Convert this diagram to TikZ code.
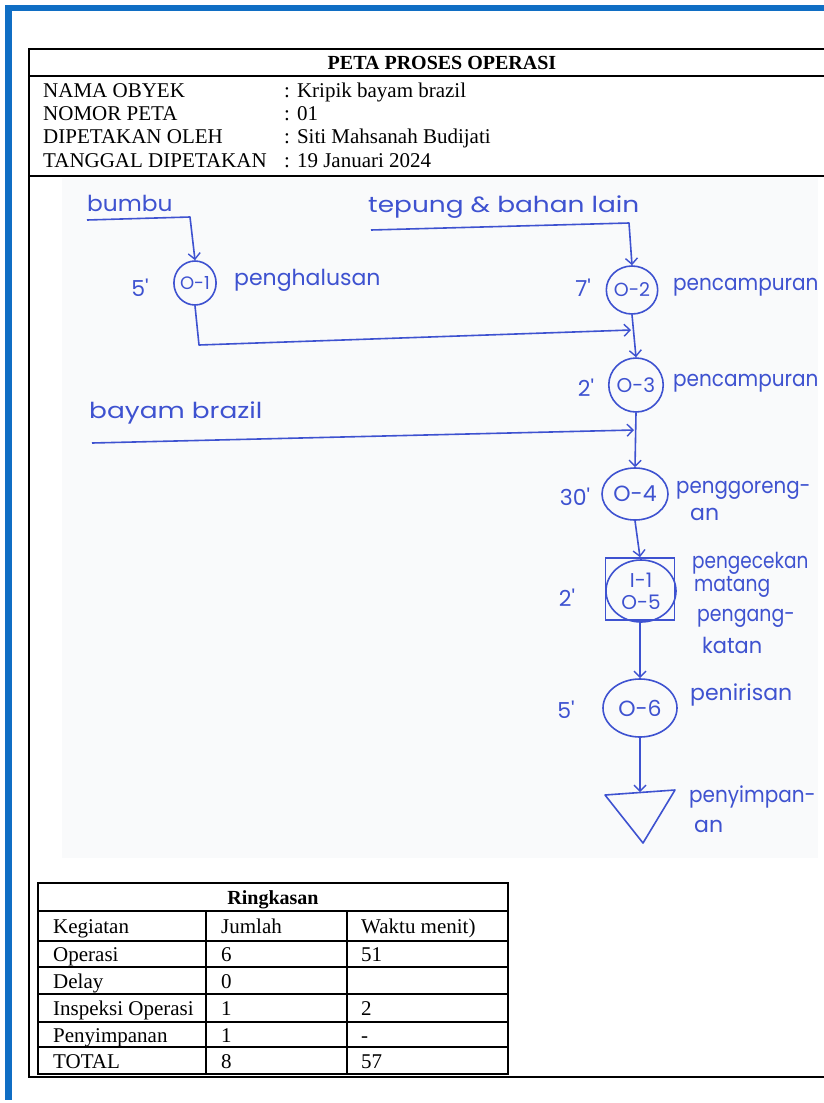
\documentclass[tikz,border=0pt]{standalone}
\usepackage{fontspec}
\usepackage{graphicx}
\setmainfont{Liberation Serif}
\newfontfamily\hand{Poppins}
\usetikzlibrary{arrows.meta,shapes.geometric}
\definecolor{pen}{RGB}{62,82,208}
\definecolor{frameblue}{RGB}{16,110,196}
\definecolor{photobg}{RGB}{249,250,251}
\newcommand{\hws}[2]{\scalebox{#1}[1]{#2}}
\begin{document}
\begin{tikzpicture}[x=1pt,y=-1pt,
  hw/.style={text=pen, font=\hand\fontsize{22}{22}\selectfont, inner sep=0pt},
  op/.style={ellipse, draw=pen, line width=1.6pt, inner sep=0pt, text=pen, font=\hand\fontsize{19}{19}\selectfont},
  flow/.style={draw=pen, line width=1.6pt, line join=round, -{Straight Barb[length=6pt,width=12pt,line width=1.4pt]}},
  pen/.style={draw=pen, line width=1.6pt, line join=round},
  frm/.style={line width=1.8pt, draw=black},
  txt/.style={font=\fontsize{21}{21}\selectfont, inner sep=0pt},
  lbl/.style={txt, anchor=base west}
]
\useasboundingbox (0,0) rectangle (824,1103);
\fill[white] (0,0) rectangle (824,1103);
% blue frame
\fill[frameblue] (5,5) rectangle (824,11);
\fill[frameblue] (5,5) rectangle (12,1100);
% outer form box
\fill[photobg] (62,178) rectangle (818,858);
\draw[frm] (29,49) rectangle (860,1077);
\draw[frm] (29,76) -- (860,76);
\draw[frm] (29,176) -- (860,176);

% header
\node[txt, anchor=base, font=\bfseries\fontsize{20}{20}\selectfont] (title) at (442,69) {PETA PROSES OPERASI};
\node[lbl] (l1) at (43,97) {NAMA OBYEK};
\node[lbl] (l2) at (43,120) {NOMOR PETA};
\node[lbl] (l3) at (43,143) {DIPETAKAN OLEH};
\node[lbl] (l4) at (43,167) {TANGGAL DIPETAKAN};
\node[lbl] (v1) at (284,97) {: Kripik bayam brazil};
\node[lbl] (v2) at (284,120) {: 01};
\node[lbl] (v3) at (284,143) {: Siti Mahsanah Budijati};
\node[lbl] (v4) at (284,167) {: 19 Januari 2024};

% process symbols
\node[op, minimum width=36pt, minimum height=44pt, font=\hand\fontsize{18}{18}\selectfont] (o1) at (195,283) {O-1};
\node[op, minimum width=42pt, minimum height=48pt] (o2) at (632,290) {O-2};
\node[op, minimum width=48pt, minimum height=54pt, font=\hand\fontsize{20}{20}\selectfont] (o3) at (636,385) {O-3};
\node[op, minimum width=66pt, minimum height=52pt, font=\hand\fontsize{22}{22}\selectfont] (o4) at (635,494) {O-4};
\node[draw=pen, line width=1.6pt, minimum width=69pt, minimum height=62pt, inner sep=0pt] (i1) at (640,589) {};
\node[op, minimum width=70pt, minimum height=62pt, align=center, font=\hand\fontsize{20}{22}\selectfont] (i1c) at (641,591) {I-1\\O-5};
\node[op, minimum width=74pt, minimum height=58pt, font=\hand\fontsize{22}{22}\selectfont] (o6) at (640,708) {O-6};
\coordinate (st) at (640,792);
\draw[pen] (605,795) -- (675,790) -- (643,843) -- cycle;

% times
\node[hw] (t1) at (140,288) {5'};
\node[hw] (t2) at (583,288) {7'};
\node[hw] (t3) at (586,388) {2'};
\node[hw] (t4) at (575,497) {30'};
\node[hw] (t5) at (567,598) {2'};
\node[hw] (t6) at (566,710) {5'};

% descriptions
\node[hw, anchor=west] (d1) at (234,280) {penghalusan};
\node[hw, anchor=west] (d2) at (673,287) {\hws{0.91}{pencampuran}};
\node[hw, anchor=west] (d3) at (673,383) {\hws{0.91}{pencampuran}};
\node[hw, anchor=west] (d4) at (676,490) {\hws{0.9}{penggoreng-}};
\node[hw, anchor=west] (d4b) at (690,514) {an};
\node[hw, anchor=west] (d5) at (692,563) {\hws{0.84}{pengecekan}};
\node[hw, anchor=west] (d5b) at (694,587) {\hws{0.85}{matang}};
\node[hw, anchor=west] (d6) at (697,618) {\hws{0.86}{pengang-}};
\node[hw, anchor=west] (d6b) at (702,645) {\hws{0.95}{katan}};
\node[hw, anchor=west] (d7) at (690,695) {penirisan};
\node[hw, anchor=west] (d8) at (689,797) {\hws{0.91}{penyimpan-}};
\node[hw, anchor=west] (d8b) at (694,826) {an};

% inputs
\node[hw, anchor=west] (in1) at (87,203) {\hws{1.06}{bumbu}};
\node[hw, anchor=west] (in2) at (368,207) {\hws{1.2}{tepung \& bahan lain}};
\node[hw, anchor=west] (in3) at (89,413) {\hws{1.2}{bayam brazil}};

% connectors
\coordinate (b0) at (87,220);
\coordinate (b1) at (190,217);
\draw[flow] (b0) -- (b1) -- (o1.north);
\coordinate (p0) at (371,230);
\coordinate (p1) at (629,223);
\draw[flow] (p0) -- (p1) -- (o2.north);
\coordinate (c1) at (199,345);
\coordinate (j1) at (631,330);
\draw[flow] (o1.south) -- (c1) -- (j1);
\draw[flow] (o2.south) -- (o3.north);
\coordinate (y0) at (92,443);
\coordinate (j2) at (634,430);
\draw[flow] (y0) -- (j2);
\draw[flow] (o3.south) -- (o4.north);
\draw[flow] (o4.south) -- (i1.north);
\draw[flow] (i1.south) -- (o6.north);
\draw[flow] (o6.south) -- (st);

% summary table
\draw[frm] (38,883) rectangle (508,1074);
\foreach \yy in {911,941,967,994,1022,1047} \draw[frm] (38,\yy) -- (508,\yy);
\draw[frm] (206,911) -- (206,1074);
\draw[frm] (347,911) -- (347,1074);
\node[txt, anchor=base, font=\bfseries\fontsize{20}{20}\selectfont] (rk) at (273,904) {Ringkasan};
\node[lbl] (r1a) at (53,933) {Kegiatan};
\node[lbl] (r1b) at (221,933) {Jumlah};
\node[lbl] (r1c) at (361,933) {Waktu menit)};
\node[lbl] (r2a) at (53,961) {Operasi};
\node[lbl] (r2b) at (221,961) {6};
\node[lbl] (r2c) at (361,961) {51};
\node[lbl] (r3a) at (53,988) {Delay};
\node[lbl] (r3b) at (221,988) {0};
\node[lbl] (r4a) at (53,1015) {Inspeksi Operasi};
\node[lbl] (r4b) at (221,1015) {1};
\node[lbl] (r4c) at (361,1015) {2};
\node[lbl] (r5a) at (53,1042) {Penyimpanan};
\node[lbl] (r5b) at (221,1042) {1};
\node[lbl] (r5c) at (361,1042) {-};
\node[lbl] (r6a) at (53,1068) {TOTAL};
\node[lbl] (r6b) at (221,1068) {8};
\node[lbl] (r6c) at (361,1068) {57};
\end{tikzpicture}
\end{document}
